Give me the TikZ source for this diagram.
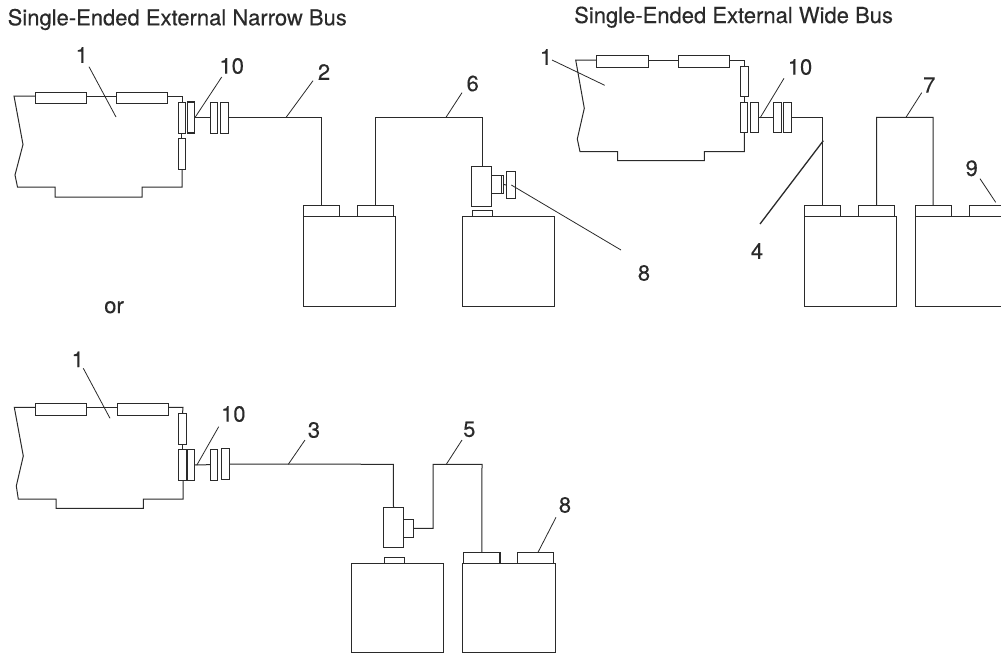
\documentclass[tikz,border=0pt]{standalone}
\usepackage{fontspec}
\setmainfont{TeX Gyre Heros}[FakeBold=0.25]
\definecolor{ink}{HTML}{2A2A2A}
\tikzset{
  rectbox/.style={draw=ink,line width=1pt,fill=white,inner sep=0pt,outer sep=0pt},
  heavybox/.style={rectbox,line width=1.5pt},
  wire/.style={draw=ink,line width=1pt,line join=miter},
  leader/.style={draw=ink,line width=0.8pt},
  thickleader/.style={draw=ink,line width=1.3pt},
  num/.style={text=ink,font=\fontsize{22}{26}\selectfont,inner sep=0pt},
  title/.style={text=ink,font=\fontsize{22}{26}\selectfont,inner sep=0pt,anchor=base west},
}
% \bx[style]{name}{x1}{y1}{x2}{y2}
\newcommand{\bx}[6][rectbox]{%
  \node[#1,minimum width={(#5-#3)*1pt},minimum height={(#6-#4)*1pt}] (#2) at ({(#3+#5)/2},{(#4+#6)/2}) {};}
\begin{document}
\begin{tikzpicture}[x=1pt,y=-1pt]
\clip (0,0) rectangle (1001,654);
\fill[white] (0,0) rectangle (1001,654);

\node[title] (t1) at (7.5,25.3) {Single-Ended External Narrow Bus};
\node[title] (t2) at (574,23) {Single-Ended External Wide Bus};
\node[num,anchor=base] (or) at (114,313) {or};

% ---------- Narrow bus, top left
\draw[wire] (35,96) -- (14,96) -- (23,144.5) -- (15,175) -- (17.5,187) -- (55,187) -- (55,197) -- (142,197) -- (142,187) -- (182,187) -- (182,169);
\bx{a1}{35}{92}{86}{103}
\bx{a2}{116.3}{92}{167.3}{103}
\bx{a3}{178}{138}{185.6}{169}
\bx{a4}{178}{102}{185.6}{133}
\bx[heavybox]{a5}{187.5}{102}{194.5}{133}
\bx{a6}{210}{102}{217.7}{133}
\bx{a7}{220}{102}{228}{133}
\draw[wire] (a1.east |- 0,96) -- (a2.west |- 0,96);
\draw[wire] (a2.east |- 0,96) -- (182,96) -- (a4.north -| 182,0);
\draw[wire] (a4.south) -- (a3.north);
\draw[wire] (a5.east) -- (a6.west);
\bx{b1}{303.3}{205}{339.7}{216.3}
\bx{b2}{357.3}{205}{393.7}{216.3}
\bx{b3}{303.3}{216.3}{395.7}{306.3}
\draw[wire] (a7.east) -- (321.5,117.5) -- (b1.north);
\bx{c1}{471.3}{166}{491.7}{206}
\bx{c2}{491.7}{175.3}{501}{193.7}
\bx{c3}{501}{175.3}{503.5}{193.7}
\bx[heavybox]{c4}{506.3}{171.3}{515.3}{198.7}
\draw[wire] (c3.east) -- (c4.west);
\bx{c5}{472}{210.3}{492.3}{216.3}
\bx{c6}{462.3}{216.3}{554.7}{306.3}
\draw[wire] (b2.north) -- (375.5,117.3) -- (482.3,117.3) -- (c1.north -| 482.3,0);

\node[num] (n1a) at (81.7,55) {1};
\node[num] (n10a) at (231.7,66) {10};
\node[num] (n2) at (324,72) {2};
\node[num] (n6) at (472.7,83.5) {6};
\node[num] (n8a) at (644,273) {8};
\coordinate (p1a) at (116,117);
\coordinate (p10a) at (195,117.5);
\coordinate (p2) at (286,117.5);
\coordinate (p6) at (446,117.3);
\coordinate (p8a) at (511.3,185);
\draw[leader] (89,66.7) -- (p1a);
\draw[leader] (221.7,77) -- (p10a);
\draw[leader] (313,80.7) -- (p2);
\draw[leader] (462,92.7) -- (p6);
\draw[leader] (621,250) -- (p8a);

% ---------- Wide bus, top right
\draw[wire] (596.7,60) -- (575.7,60) -- (584.3,108.3) -- (577.3,139) -- (580,151.7) -- (617.7,151.7) -- (617.7,160.7) -- (704.3,160.7) -- (704.3,151.7) -- (744.3,151.7) -- (744.3,132.7);
\bx{d1}{596.7}{55.3}{648.3}{67.3}
\bx{d2}{678.3}{55.3}{729.7}{67.3}
\bx{d3}{740}{66}{748}{96.7}
\bx{d4}{740.3}{102.3}{747.7}{132.7}
\bx[heavybox]{d5}{750.3}{102.3}{758.7}{132.7}
\bx{d6}{773.3}{102.3}{781.7}{132.7}
\bx{d7}{783.3}{102.3}{791.7}{132.7}
\draw[wire] (d1.east |- 0,60) -- (d2.west |- 0,60);
\draw[wire] (d2.east |- 0,60) -- (744,60) -- (d3.north);
\draw[wire] (d3.south) -- (d4.north);
\draw[wire] (d5.east) -- (d6.west);
\bx{e1}{804.3}{205}{840.7}{216.3}
\bx{e2}{858.3}{205}{894.7}{216.3}
\bx{e3}{804.3}{216.3}{896.3}{306.3}
\bx{f1}{915}{205}{951.3}{216.3}
\bx{f2}{969}{205}{1006}{216.3}
\bx{f3}{915}{216.3}{1008}{306.3}
\draw[wire] (d7.east) -- (822.5,117.5) -- (e1.north);
\draw[wire] (e2.north) -- (876.5,117.3) -- (933.2,117.3) -- (f1.north);

\node[num] (n1b) at (546,57) {1};
\node[num] (n10b) at (800,67) {10};
\node[num] (n7) at (929.3,85) {7};
\node[num] (n9) at (971.7,168.3) {9};
\node[num] (n4) at (757,251) {4};
\coordinate (p1b) at (604.7,85.3);
\coordinate (p10b) at (760,118);
\coordinate (p7) at (906,117.3);
\coordinate (p9) at (995.7,202.3);
\coordinate (p4) at (823.3,140.7);
\draw[leader] (552,60) -- (p1b);
\draw[leader] (784,78.3) -- (p10b);
\draw[leader] (921.7,92.7) -- (p7);
\draw[leader] (980,178.7) -- (p9);
\draw[thickleader] (760,224) -- (p4);

% ---------- Narrow bus, lower
\draw[wire] (35.3,407.3) -- (14.3,407.3) -- (23.3,456) -- (16.3,486) -- (18.3,499) -- (56,499) -- (56,508.3) -- (143.3,508.3) -- (143.3,499) -- (183,499) -- (183,480.3);
\bx{g1}{35.3}{403.3}{86.7}{415}
\bx{g2}{117}{403.3}{168.3}{415}
\bx{g3}{178.7}{413.7}{186.3}{444.3}
\bx{g4}{178.7}{449.7}{186.3}{480.3}
\bx[heavybox]{g5}{187}{449.7}{194.7}{480.3}
\bx{g6}{210}{449.3}{217.7}{480}
\bx{g7}{221.3}{448.7}{229}{479.3}
\draw[wire] (g1.east |- 0,407.3) -- (g2.west |- 0,407.3);
\draw[wire] (g2.east |- 0,407.3) -- (183,407.3) -- (g3.north);
\draw[wire] (g3.south) -- (g4.north);
\draw[wire] (g5.east) -- (g6.west);
\bx{h1}{383.3}{507.3}{403.7}{547.7}
\bx{h2}{403.7}{519.3}{413}{537.3}
\bx{h3}{384.3}{557}{404.7}{563.7}
\bx{h4}{351.7}{563.7}{443.7}{652}
\bx{i4}{462.3}{563.7}{555}{652}
\bx[heavybox]{i1}{463.7}{552.3}{500}{563.7}
\bx[rectbox]{i2}{517.7}{552.3}{553.7}{563.7}
\draw[wire] (g7.east) -- (393.3,464.3) -- (h1.north);
\draw[wire] (h2.east) -- (433,528.3) -- (433,464.3) -- (482,464.3) -- (i1.north);

\node[num] (n1c) at (77.7,359.3) {1};
\node[num] (n10c) at (233.3,414) {10};
\node[num] (n3) at (314,430) {3};
\node[num] (n5) at (469.3,429.3) {5};
\node[num] (n8c) at (565,505) {8};
\coordinate (p1c) at (110,418.3);
\coordinate (p10c) at (196.7,465.3);
\coordinate (p3) at (288.3,464.3);
\coordinate (p5) at (446.3,464.3);
\coordinate (p8c) at (538,552.3);
\draw[leader] (83.3,368.3) -- (p1c);
\draw[leader] (218.7,426.7) -- (p10c);
\draw[leader] (305,440) -- (p3);
\draw[leader] (462,440) -- (p5);
\draw[leader] (556,517.3) -- (p8c);
\end{tikzpicture}
\end{document}
